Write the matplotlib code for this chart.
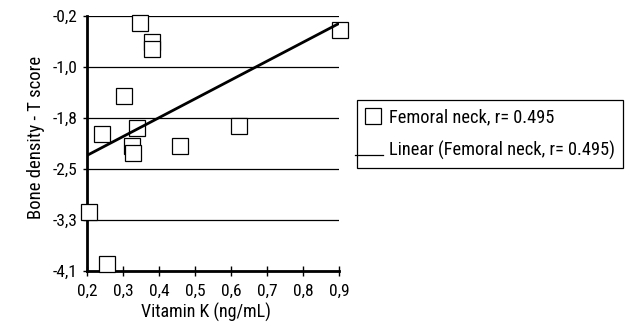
import numpy as np
import matplotlib
matplotlib.use("Agg")
import matplotlib.pyplot as plt
from matplotlib.ticker import FuncFormatter
from matplotlib.lines import Line2D
from matplotlib.legend_handler import HandlerLine2D

plt.rcParams['font.family'] = ['Roboto Condensed', 'Archivo Narrow', 'DejaVu Sans']

vitamin_k = [0.348, 0.381, 0.381, 0.303, 0.243, 0.339, 0.622, 0.458, 0.326, 0.328, 0.206, 0.255, 0.903]
t_score = [-0.31, -0.60, -0.71, -1.42, -2.00, -1.92, -1.88, -2.19, -2.19, -2.30, -3.20, -4.00, -0.41]
x_ticks = [0.2, 0.3, 0.4, 0.5, 0.6, 0.7, 0.8, 0.9]
y_ticks = list(np.linspace(-4.1, -0.2, 6))
series_label = "Femoral neck, r= 0.495"
fit_label = "Linear (Femoral neck, r= 0.495)"


class LowLineHandler(HandlerLine2D):
    def create_artists(self, legend, orig_handle, xdescent, ydescent, width, height, fontsize, trans):
        y = -ydescent + 0.02 * height
        line = Line2D([-xdescent - 7, -xdescent + width], [y, y], color='black', linewidth=0.9)
        line.set_transform(trans)
        return [line]


class ShiftedMarkerHandler(HandlerLine2D):
    def create_artists(self, legend, orig_handle, xdescent, ydescent, width, height, fontsize, trans):
        m = Line2D([-xdescent + width / 2 - 1], [-ydescent + height / 2], linestyle='none',
                   marker='s', markersize=orig_handle.get_markersize(),
                   markerfacecolor='white', markeredgecolor='black',
                   markeredgewidth=orig_handle.get_markeredgewidth())
        m.set_transform(trans)
        return [m]


fig = plt.figure(figsize=(6.29, 3.27), dpi=100)
ax = fig.add_axes([87/629, 1 - 271/327, (339-87)/629, (271-16)/327])

pts, = ax.plot(vitamin_k, t_score, linestyle='none', marker='s', markersize=11,
               markerfacecolor='white', markeredgecolor='black', markeredgewidth=0.9,
               clip_on=False, zorder=3)

slope, intercept = np.polyfit(vitamin_k, t_score, 1)
xs = np.array([0.2, 0.9])
fit, = ax.plot(xs, slope * xs + intercept, color='black', linewidth=2, zorder=4)

ax.set_xlim(0.2, 0.9)
ax.set_ylim(-4.1, -0.2)
ax.set_xticks(x_ticks)
ax.set_yticks(y_ticks)
fmt = FuncFormatter(lambda v, p: f"{v:.1f}".replace('.', ','))
ax.xaxis.set_major_formatter(fmt)
ax.yaxis.set_major_formatter(fmt)
ax.yaxis.grid(True, color='black', linewidth=0.9)
ax.set_axisbelow(True)
for s in ['top', 'right']:
    ax.spines[s].set_visible(False)
for s in ['left', 'bottom']:
    ax.spines[s].set_linewidth(2)
ax.tick_params(axis='x', direction='inout', length=7, width=1, labelsize=12.5, pad=6)
ax.tick_params(axis='y', direction='out', length=3, width=1, labelsize=12.5, pad=4)
ax.set_xlabel("Vitamin K (ng/mL)", fontsize=13)
ax.set_ylabel("Bone density - T score", fontsize=13.5)
ax.xaxis.set_label_coords((205.5 - 87) / 252, (271 - 303) / 255)
ax.yaxis.set_label_coords((45 - 87) / 252, (271 - 137) / 255)

leg = fig.legend([pts, fit], [series_label, fit_label], loc='upper left',
                 bbox_to_anchor=(357/629, 1 - 100/327), fontsize=13.2,
                 frameon=True, fancybox=False, edgecolor='black', framealpha=1,
                 handlelength=1.0, borderpad=0.44, labelspacing=0.78, handletextpad=0.3,
                 borderaxespad=0,
                 handler_map={fit: LowLineHandler(), pts: ShiftedMarkerHandler()})
leg.get_frame().set_linewidth(0.9)

fig.savefig("out.png", dpi=100)
